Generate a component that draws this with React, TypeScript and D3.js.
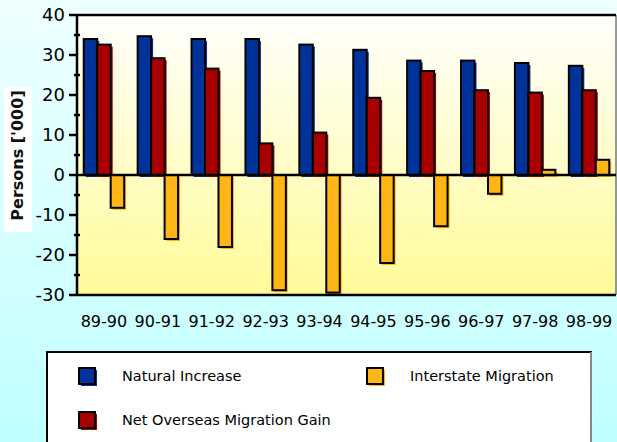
import React from "react";
import * as d3 from "d3";

const categories = ["89-90", "90-91", "91-92", "92-93", "93-94", "94-95", "95-96", "96-97", "97-98", "98-99"];
const seriesNames = ["Natural Increase", "Net Overseas Migration Gain", "Interstate Migration"];
const naturalIncrease = [34, 34.7, 34, 34, 32.6, 31.3, 28.6, 28.6, 28, 27.3];
const netOverseas = [32.6, 29.2, 26.6, 7.9, 10.6, 19.3, 26, 21.2, 20.6, 21.2];
const interstate = [-8.2, -16, -18, -28.8, -29.4, -22, -12.8, -4.7, 1.3, 3.8];
const seriesColors = ["#003399", "#A80000", "#FFB515"];
const yMajorTicks = [-30, -20, -10, 0, 10, 20, 30, 40];
const yMinorTicks = [-25, -15, -5, 5, 15, 25, 35];

const W = 617;
const H = 442;
const plot = { left: 77, right: 616, top: 15, bottom: 295 };

export default function App() {
  const values = [naturalIncrease, netOverseas, interstate];
  const y = d3.scaleLinear().domain([-30, 40]).range([plot.bottom, plot.top]);
  const x = d3
    .scaleBand<string>()
    .domain(categories)
    .range([plot.left, plot.right])
    .paddingInner(0.25)
    .paddingOuter(0.125);
  const xs = d3.scaleBand<string>().domain(seriesNames).range([0, x.bandwidth()]).padding(0);
  const y0 = y(0);

  const bars: JSX.Element[] = [];
  seriesNames.forEach((s, si) => {
    categories.forEach((c, ci) => {
      const v = values[si][ci];
      const bx = (x(c) as number) + (xs(s) as number);
      const by = Math.min(y(v), y0);
      const bh = Math.abs(y(v) - y0);
      const bw = xs.bandwidth();
      bars.push(
        <g key={s + c}>
          <rect x={bx + 2} y={by + 2} width={bw} height={bh} fill={seriesColors[si]} />
          <rect x={bx} y={by} width={bw} height={bh} fill={seriesColors[si]} stroke="#000" strokeWidth={2} />
        </g>
      );
    });
  });

  const legendItems = [
    { name: seriesNames[0], color: seriesColors[0], sx: 79, sy: 368, tx: 122 },
    { name: seriesNames[2], color: seriesColors[2], sx: 367, sy: 368, tx: 410 },
    { name: seriesNames[1], color: seriesColors[1], sx: 79, sy: 412, tx: 122 },
  ];

  return (
    <svg
      width={W}
      height={H}
      style={{ position: "absolute", left: 0, top: 0, display: "block" }}
      fontFamily="'DejaVu Sans', Verdana, sans-serif"
    >
      <defs>
        <linearGradient id="bg" x1="0" y1="0" x2="0" y2="1">
          <stop offset="0" stopColor="#EEFFFF" />
          <stop offset="1" stopColor="#C0FFFF" />
        </linearGradient>
        <linearGradient id="plotbg" x1="0" y1="0" x2="0" y2="1">
          <stop offset="0" stopColor="#FFFFFD" />
          <stop offset="1" stopColor="#FFFB98" />
        </linearGradient>
      </defs>
      <rect x={0} y={0} width={W} height={H} fill="url(#bg)" />
      <rect
        x={plot.left}
        y={plot.top}
        width={plot.right - plot.left}
        height={plot.bottom - plot.top}
        fill="url(#plotbg)"
      />
      <line x1={plot.right} x2={plot.right} y1={plot.top} y2={plot.bottom} stroke="#777" strokeWidth={1.5} />

      {bars}

      <line x1={plot.left} x2={plot.right} y1={y0} y2={y0} stroke="#000" strokeWidth={2.5} />
      <line x1={plot.left} x2={plot.right} y1={plot.top} y2={plot.top} stroke="#000" strokeWidth={2.5} />
      <line x1={plot.left} x2={plot.right} y1={plot.bottom} y2={plot.bottom} stroke="#000" strokeWidth={2.5} />
      <line x1={plot.left} x2={plot.left} y1={plot.top} y2={plot.bottom} stroke="#000" strokeWidth={2.5} />

      {yMajorTicks.map((t) => (
        <g key={"M" + t}>
          <line x1={69} x2={plot.left} y1={y(t)} y2={y(t)} stroke="#000" strokeWidth={2.5} />
          <text x={65} y={y(t)} dy="0.36em" textAnchor="end" fontSize={18} fill="#000">
            {t}
          </text>
        </g>
      ))}
      {yMinorTicks.map((t) => (
        <line key={"m" + t} x1={74} x2={80} y1={y(t)} y2={y(t)} stroke="#000" strokeWidth={2.5} />
      ))}

      {categories.map((c) => (
        <text
          key={"x" + c}
          x={(x(c) as number) + x.bandwidth() / 2}
          y={327}
          textAnchor="middle"
          fontSize={16}
          fill="#000"
        >
          {c}
        </text>
      ))}

      <rect x={4} y={87} width={28} height={145} fill="#FFFFFF" />
      <text
        transform="translate(22.5,155.5) rotate(-90)"
        textAnchor="middle"
        fontSize={16}
        fontWeight="bold"
        fill="#111"
      >
        Persons ['000]
      </text>

      <rect x={47} y={352} width={544} height={100} fill="#FFFFFF" stroke="#000" strokeWidth={2} />
      <line x1={591} x2={591} y1={352} y2={H} stroke="#888" strokeWidth={2} />
      {legendItems.map((it) => (
        <g key={"l" + it.name}>
          <rect x={it.sx + 2} y={it.sy + 2} width={16} height={16} fill={it.color} />
          <rect x={it.sx} y={it.sy} width={16} height={16} fill={it.color} stroke="#000" strokeWidth={2} />
          <text x={it.tx} y={it.sy + 8} dy="0.36em" fontSize={14.5} fill="#000">
            {it.name}
          </text>
        </g>
      ))}
    </svg>
  );
}
